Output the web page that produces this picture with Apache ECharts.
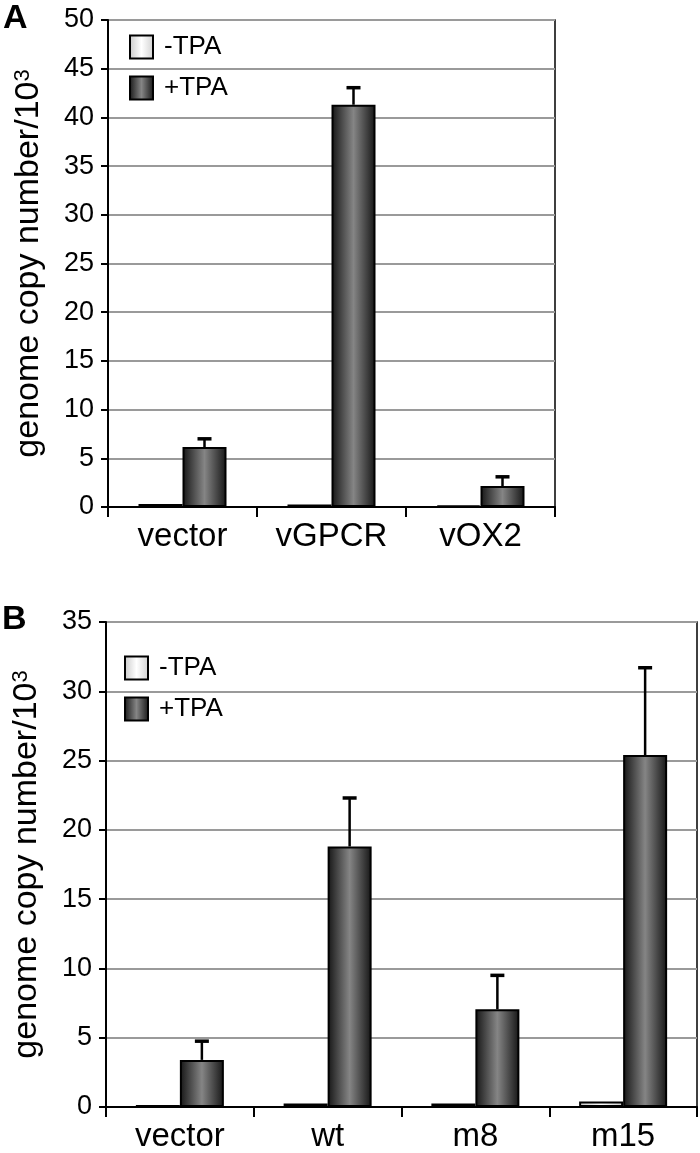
<!DOCTYPE html>
<html>
<head>
<meta charset="utf-8">
<script src="https://cdn.jsdelivr.net/npm/echarts@6/dist/echarts.min.js"></script>
<style>
html,body{margin:0;padding:0;background:#fff;}
#c{width:700px;height:1153px;}
</style>
</head>
<body>
<div id="c"></div>
<script>
// ---- Data ----
const catsA = ['vector', 'vGPCR', 'vOX2'];
const minusA = [0.3, 0.25, 0.15];
const plusA = [6.15, 41.3, 2.15];
const errA = [0.85, 1.75, 0.95];

const catsB = ['vector', 'wt', 'm8', 'm15'];
const minusB = [0.15, 0.25, 0.25, 0.4];
const plusB = [3.4, 18.8, 7.05, 25.4];
const errB = [1.35, 3.5, 2.45, 6.3];

const ticksA = {min: 0, max: 50, interval: 5};
const ticksB = {min: 0, max: 35, interval: 5};
const seriesNames = ['-TPA', '+TPA'];

// ---- Styles ----
const FONT = "'Liberation Sans', Arial, sans-serif";
const BAR_W = 44;
const darkFill = {type: 'linear', x: 0, y: 0, x2: 1, y2: 0, colorStops: [
  {offset: 0, color: '#151515'}, {offset: 0.5, color: '#858585'}, {offset: 1, color: '#151515'}]};
const lightFill = {type: 'linear', x: 0, y: 0, x2: 1, y2: 0, colorStops: [
  {offset: 0, color: '#c8c8c8'}, {offset: 0.5, color: '#ffffff'}, {offset: 1, color: '#d0d0d0'}]};

function yAxis(gridIndex, t) {
  return {
    type: 'value', gridIndex, min: t.min, max: t.max, interval: t.interval,
    name: '{a|genome copy number/10}{b|3}',
    nameLocation: 'middle', nameRotate: 90, nameGap: 62,
    nameTextStyle: {rich: {
      a: {fontSize: 34, fontFamily: FONT, color: '#000'},
      b: {fontSize: 22, fontFamily: FONT, color: '#000', verticalAlign: 'top'}
    }},
    axisLine: {show: true, lineStyle: {color: '#000', width: 2}},
    axisTick: {show: true, length: 7, lineStyle: {color: '#000', width: 2}},
    axisLabel: {fontSize: 27, fontFamily: FONT, color: '#000', margin: 14},
    splitLine: {show: true, lineStyle: {color: '#9a9a9a', width: 2}}
  };
}
function xAxis(gridIndex, cats) {
  return {
    type: 'category', gridIndex, data: cats,
    axisLine: {show: true, lineStyle: {color: '#000', width: 2}},
    axisTick: {show: true, length: 10, lineStyle: {color: '#000', width: 2}},
    axisLabel: {fontSize: 33, fontFamily: FONT, color: '#000', margin: 13, interval: 0, hideOverlap: false},
    splitLine: {show: false}
  };
}
function bars(gi, name, vals, fill) {
  return {
    type: 'bar', name, xAxisIndex: gi, yAxisIndex: gi, data: vals,
    barWidth: BAR_W, barGap: '0%',
    itemStyle: {color: fill, borderColor: '#000', borderWidth: 2},
    emphasis: {disabled: true}, animation: false
  };
}
function errSeries(gi, vals, errs) {
  return {
    type: 'custom', name: 'err' + gi, xAxisIndex: gi, yAxisIndex: gi,
    data: vals.map((v, i) => [i, v, errs[i]]),
    encode: {x: 0, y: 1}, z: 5, animation: false, silent: true,
    renderItem: function (params, api) {
      const i = api.value(0), v = api.value(1), e = api.value(2);
      const p0 = api.coord([i, v]);
      const p1 = api.coord([i, v + e]);
      const x = p0[0] + BAR_W / 2;
      return {type: 'group', children: [
        {type: 'line', shape: {x1: x, y1: p0[1], x2: x, y2: p1[1]}, style: {stroke: '#000', lineWidth: 2.5}},
        {type: 'line', shape: {x1: x - 7, y1: p1[1], x2: x + 7, y2: p1[1]}, style: {stroke: '#000', lineWidth: 3.5}}
      ]};
    }
  };
}
function legend(left, top) {
  return {
    data: seriesNames, orient: 'vertical', left, top, padding: 0,
    itemWidth: 23, itemHeight: 23, itemGap: 15, icon: 'rect',
    textStyle: {fontSize: 26, fontFamily: FONT, color: '#000', padding: [0, 0, 0, 6]},
    selectedMode: false
  };
}

const chart = echarts.init(document.getElementById('c'), null, {renderer: 'canvas'});
chart.setOption({
  backgroundColor: '#fff',
  animation: false,
  graphic: [
    {type: 'text', left: 3, top: 2, style: {text: 'A', font: 'bold 34px ' + FONT, fill: '#000'}},
    {type: 'text', left: 2, top: 603, style: {text: 'B', font: 'bold 34px ' + FONT, fill: '#000'}}
  ],
  grid: [
    {left: 108, top: 20, width: 447, height: 487, show: true, borderColor: '#000', borderWidth: 1.5},
    {left: 106, top: 622, width: 591, height: 486, show: true, borderColor: '#000', borderWidth: 1.5}
  ],
  legend: [legend(129, 34), legend(124, 655)],
  xAxis: [xAxis(0, catsA), xAxis(1, catsB)],
  yAxis: [yAxis(0, ticksA), yAxis(1, ticksB)],
  series: [
    bars(0, seriesNames[0], minusA, lightFill),
    bars(0, seriesNames[1], plusA, darkFill),
    errSeries(0, plusA, errA),
    bars(1, seriesNames[0], minusB, lightFill),
    bars(1, seriesNames[1], plusB, darkFill),
    errSeries(1, plusB, errB)
  ]
});
</script>
</body>
</html>
